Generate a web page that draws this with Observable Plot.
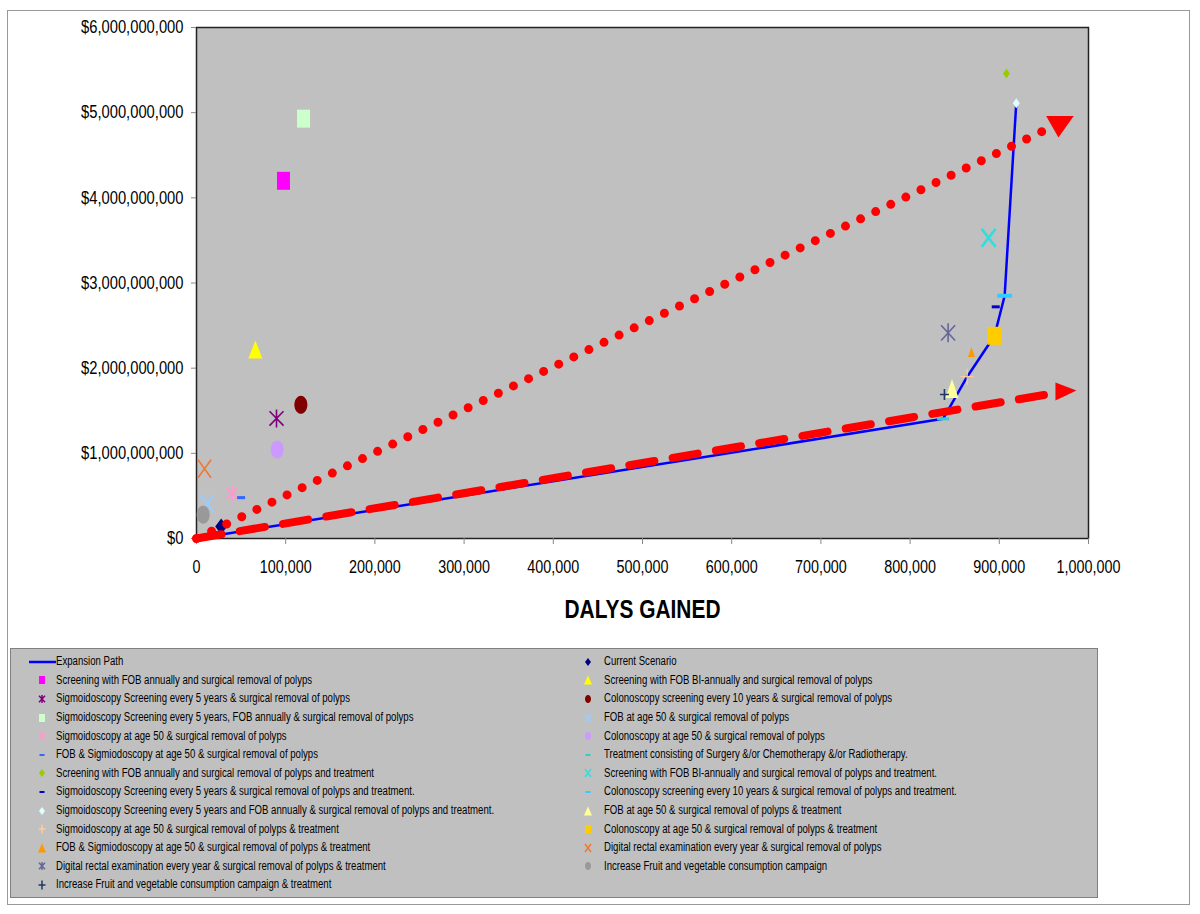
<!DOCTYPE html>
<html><head><meta charset="utf-8">
<script src="https://cdn.jsdelivr.net/npm/d3@7"></script>
<script src="https://cdn.jsdelivr.net/npm/@observablehq/plot@0.6"></script>
<style>
body{margin:0;background:#fff;}
#wrap{position:relative;width:1200px;height:914px;overflow:hidden;font-family:"Liberation Sans",Arial,sans-serif;}
#border{position:absolute;left:7px;top:10px;width:1183px;height:895px;border:1px solid #999;box-sizing:border-box}
#chart{position:absolute;left:0;top:0}
#legend{position:absolute;left:10px;top:648px;width:1088px;height:250px;background:#C0C0C0;border:1px solid #808080;box-sizing:border-box}
.li{position:absolute;font-size:12px;color:#000;white-space:nowrap;line-height:14px;transform:scaleX(0.8);transform-origin:0 50%}
</style></head><body>
<div id="wrap"><div id="border"></div><div id="legend"></div><div id="chart"></div></div>
<script>
// ---------- DATA ----------
const strategies = [
  "Current Scenario",
  "Screening with FOB annually and surgical removal of polyps",
  "Screening with FOB BI-annually and surgical removal of polyps",
  "Sigmoidoscopy Screening every 5 years & surgical removal of polyps",
  "Colonoscopy screening every 10 years & surgical removal of polyps",
  "Sigmoidoscopy Screening every 5 years, FOB annually & surgical removal of polyps",
  "FOB at age 50 & surgical removal of polyps",
  "Sigmoidoscopy at age 50 & surgical removal of polyps",
  "Colonoscopy at age 50 & surgical removal of polyps",
  "FOB & Sigmiodoscopy at age 50 & surgical removal of polyps",
  "Treatment consisting of Surgery &/or Chemotherapy &/or Radiotherapy.",
  "Screening with FOB annually and surgical removal of polyps and treatment",
  "Screening with FOB BI-annually and surgical removal of polyps and treatment.",
  "Sigmoidoscopy Screening every 5 years & surgical removal of polyps and treatment.",
  "Colonoscopy screening every 10 years & surgical removal of polyps and treatment.",
  "Sigmoidoscopy Screening every 5 years and FOB annually & surgical removal of polyps and treatment.",
  "FOB at age 50 & surgical removal of polyps & treatment",
  "Sigmoidoscopy at age 50 & surgical removal of polyps & treatment",
  "Colonoscopy at age 50 & surgical removal of polyps & treatment",
  "FOB & Sigmiodoscopy at age 50 & surgical removal of polyps & treatment",
  "Digital rectal examination every year & surgical removal of polyps",
  "Digital rectal examination every year & surgical removal of polyps & treatment",
  "Increase Fruit and vegetable consumption campaign",
  "Increase Fruit and vegetable consumption campaign & treatment"
];
const dalysGained = [27700, 97500, 66000, 89700, 117000, 120000, 12000, 40000, 90400, 50000,
  837000, 908000, 888000, 896000, 906000, 919000, 847000, 864000, 894600, 868800,
  9000, 842600, 7500, 838500];
const costs = [0.14e9, 4.20e9, 2.22e9, 1.41e9, 1.57e9, 4.93e9, 0.41e9, 0.53e9, 1.045e9, 0.48e9,
  1.405e9, 5.46e9, 3.53e9, 2.72e9, 2.85e9, 5.11e9, 1.76e9, 1.90e9, 2.38e9, 2.19e9,
  0.82e9, 2.415e9, 0.28e9, 1.69e9];

const pathLabel = "Expansion Path";
const pathDalys = [0, 837000, 864000, 894600, 906000, 919000];
const pathCosts = [0, 1.405e9, 1.90e9, 2.38e9, 2.85e9, 5.11e9];

const dottedArrowDalys = [0, 968000];
const dottedArrowCosts = [0, 4.88e9];
const dashedArrowDalys = [0, 973000];
const dashedArrowCosts = [0, 1.726e9];

const xTicks = [0,100000,200000,300000,400000,500000,600000,700000,800000,900000,1000000];
const yTicks = [0,1e9,2e9,3e9,4e9,5e9,6e9];
const xTitle = "DALYS GAINED";

// ---------- STYLES (per strategy, same order) ----------
const markerShape = ["diamond","square","triangle","asterisk","ellipse","square","times","asterisk","ellipse","dash",
  "dash","diamond","times","dash","dash","diamond","triangle","plus","square","triangle",
  "times","asterisk","ellipse","plus"];
const markerColor = ["#000080","#FF00FF","#FFFF00","#800080","#800000","#CCFFCC","#99CCFF","#FF99CC","#CC99FF","#3366FF",
  "#33CCCC","#99CC00","#33DDDD","#0000CC","#33CCFF","#DDFFFF","#FFFF99","#FFCC99","#FFCC00","#FF9900",
  "#F07830","#666699","#999999","#1F3864"];
const markerW = [12,13,14,14,13,13,14,12,13,8, 12,7,14,8,15,7,13,13,14,7, 13,14,13,9];
const markerH = [16,18,18,18,18,18,18,15,18,3, 3,10,18,3,4,10,19,16,18,10, 18,19,18,11];
const markerSW = [0,0,0,1.6,0,0,2,1.6,0,0, 0,0,2.5,0,0,0,0,1.2,0,0, 1.6,1.6,0,1.6];

// ---------- SYMBOLS ----------
const poly = pts => ({draw(ctx){ctx.moveTo(pts[0][0],pts[0][1]);for(let i=1;i<pts.length;i++)ctx.lineTo(pts[i][0],pts[i][1]);ctx.closePath();}});
const makeSym = {
  square:(w,h)=>poly([[-w/2,-h/2],[w/2,-h/2],[w/2,h/2],[-w/2,h/2]]),
  dash:(w,h)=>poly([[-w/2,-h/2],[w/2,-h/2],[w/2,h/2],[-w/2,h/2]]),
  diamond:(w,h)=>poly([[0,-h/2],[w/2,0],[0,h/2],[-w/2,0]]),
  triangle:(w,h)=>poly([[0,-h/2],[w/2,h/2],[-w/2,h/2]]),
  ellipse:(w,h)=>poly(d3.range(36).map(i=>[w/2*Math.cos(i*Math.PI/18),h/2*Math.sin(i*Math.PI/18)])),
  times:(w,h)=>({draw(c){c.moveTo(-w/2,-h/2);c.lineTo(w/2,h/2);c.moveTo(w/2,-h/2);c.lineTo(-w/2,h/2);}}),
  asterisk:(w,h)=>({draw(c){c.moveTo(-w/2,-h/2*0.8);c.lineTo(w/2,h/2*0.8);c.moveTo(w/2,-h/2*0.8);c.lineTo(-w/2,h/2*0.8);c.moveTo(0,-h/2);c.lineTo(0,h/2);}}),
  plus:(w,h)=>({draw(c){c.moveTo(-w/2,0);c.lineTo(w/2,0);c.moveTo(0,-h/2);c.lineTo(0,h/2);}})
};
const isStroke = s => s==="times"||s==="asterisk"||s==="plus";

// ---------- PLOT ----------
const rows = strategies.map((s,i)=>({strategy:s, dalys:dalysGained[i], cost:costs[i], i}));
const path = pathDalys.map((d,i)=>({dalys:d, cost:pathCosts[i]}));
const dotted = dottedArrowDalys.map((d,i)=>({dalys:d, cost:dottedArrowCosts[i]}));
const dashed = dashedArrowDalys.map((d,i)=>({dalys:d, cost:dashedArrowCosts[i]}));

const dotMarks = rows.map(r=>{
  const shp = markerShape[r.i];
  const sym = makeSym[shp](markerW[r.i], markerH[r.i]);
  return isStroke(shp)
    ? Plot.dot([r],{x:"dalys",y:"cost",symbol:sym,r:5,fill:"none",stroke:markerColor[r.i],strokeWidth:markerSW[r.i]})
    : Plot.dot([r],{x:"dalys",y:"cost",symbol:sym,r:5,fill:markerColor[r.i],stroke:"none"});
});

const downTri = poly([[-13.8,-7],[13.8,-7],[-1.5,14.5]]);
const rightTri = poly([[-9,-9],[12,-1],[-9,9]]);

const chart = Plot.plot({
  width:1200, height:640,
  marginLeft:196, marginRight:112, marginTop:27, marginBottom:102,
  style:{fontFamily:'"Liberation Sans",Arial,sans-serif', background:"transparent", overflow:"visible"},
  x:{domain:[0,1000000]},
  y:{domain:[0,6e9]},
  marks:[
    Plot.frame({fill:"#C0C0C0", stroke:"#222", strokeWidth:1.5}),
    Plot.axisY({ticks:yTicks, tickFormat:v=>"$"+d3.format(",")(v), tickSize:5, tickPadding:8, fontSize:18, stroke:"#888", fill:"#000", label:null}),
    Plot.axisX({ticks:xTicks, tickFormat:d3.format(","), tickSize:6, tickPadding:16, fontSize:17.5, stroke:"#888", fill:"#000", label:null}),
    Plot.text([xTitle],{frameAnchor:"bottom", dy:79, text:d=>d, fontSize:25.5, fontWeight:"bold", fill:"#000"}),
    Plot.line(path,{x:"dalys",y:"cost",stroke:"#0000FF",strokeWidth:2.5}),
    ...dotMarks,
    Plot.line(dotted,{x:"dalys",y:"cost",stroke:"#FF0000",strokeWidth:9,strokeDasharray:"0 16.75",strokeLinecap:"round"}),
    Plot.dot(dotted.slice(1),{x:"dalys",y:"cost",symbol:downTri,r:5,fill:"#FF0000",stroke:"none"}),
    Plot.line(dashed,{x:"dalys",y:"cost",stroke:"#FF0000",strokeWidth:8,strokeDasharray:"25.4 18.5"}),
    Plot.dot(dashed.slice(1),{x:"dalys",y:"cost",symbol:rightTri,r:5,fill:"#FF0000",stroke:"none"})
  ]
});
// condense text horizontally (Arial Narrow look) around each label's anchor
chart.querySelectorAll("text").forEach(t=>{
  const tr = t.getAttribute("transform");
  if (tr) t.setAttribute("transform", tr + " scale(0.82,1)");
});
document.getElementById("chart").appendChild(chart);

// ---------- LEGEND ----------
const legendSize = {square:[6,8],ellipse:[6,8],triangle:[8,9],diamond:[6,8],times:[6,8],asterisk:[6,8],plus:[7,9],dash:[5,2]};
const wrap = document.getElementById("wrap");
const items = [{label:pathLabel, line:true}, ...strategies.map((s,i)=>({label:s, i}))];
items.forEach((it,k)=>{
  const col = k%2, row = Math.floor(k/2);
  const cy = 661.7 + row*18.6;
  const sx = col===0 ? 42 : 588;
  const tx = col===0 ? 56 : 604;
  const svgNS = "http://www.w3.org/2000/svg";
  const svg = document.createElementNS(svgNS,"svg");
  svg.setAttribute("width",40); svg.setAttribute("height",20);
  svg.style.position="absolute"; svg.style.left=(sx-20)+"px"; svg.style.top=(cy-10)+"px";
  if (it.line){
    const l = document.createElementNS(svgNS,"line");
    l.setAttribute("x1",7);l.setAttribute("x2",34);l.setAttribute("y1",10);l.setAttribute("y2",10);
    l.setAttribute("stroke","#0000FF");l.setAttribute("stroke-width",2.5);
    svg.appendChild(l);
  } else {
    const shp = markerShape[it.i];
    const [w,h] = legendSize[shp];
    const p = d3.path(); makeSym[shp](w,h).draw(p);
    const e = document.createElementNS(svgNS,"path");
    e.setAttribute("d",p.toString());
    e.setAttribute("transform","translate(20,10)");
    if (isStroke(shp)){e.setAttribute("fill","none");e.setAttribute("stroke",markerColor[it.i]);e.setAttribute("stroke-width",1.5);}
    else {e.setAttribute("fill",markerColor[it.i]);}
    svg.appendChild(e);
  }
  wrap.appendChild(svg);
  const d = document.createElement("div");
  d.className="li"; d.textContent=it.label;
  d.style.left=tx+"px"; d.style.top=(cy-7.5)+"px";
  wrap.appendChild(d);
});
</script>
</body></html>
